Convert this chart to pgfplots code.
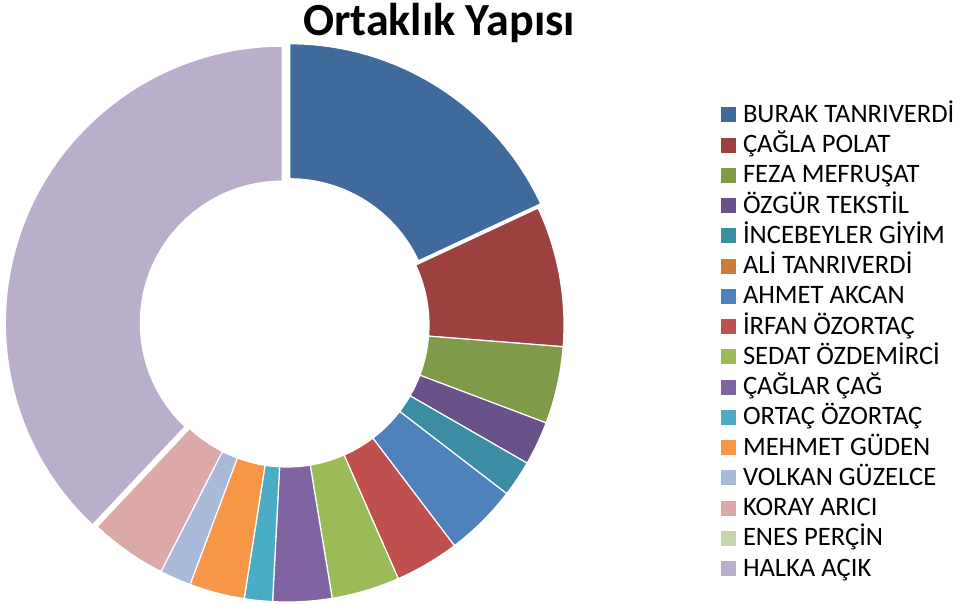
\documentclass[border=0pt]{standalone}
\usepackage{pgfplots}
\usepackage{pgfplotstable}
\pgfplotsset{compat=1.18}
\usepackage{fontspec}
\setmainfont{Carlito}

\definecolor{c0}{HTML}{416A9C}
\definecolor{c1}{HTML}{9C413F}
\definecolor{c2}{HTML}{7F9A48}
\definecolor{c3}{HTML}{69518A}
\definecolor{c4}{HTML}{3C8DA3}
\definecolor{c5}{HTML}{CC7B38}
\definecolor{c6}{HTML}{4F81BD}
\definecolor{c7}{HTML}{C0504D}
\definecolor{c8}{HTML}{9BBB59}
\definecolor{c9}{HTML}{8064A2}
\definecolor{c10}{HTML}{4BACC6}
\definecolor{c11}{HTML}{F79646}
\definecolor{c12}{HTML}{A9B9D8}
\definecolor{c13}{HTML}{DAA9A8}
\definecolor{c14}{HTML}{C6D6AC}
\definecolor{c15}{HTML}{B9AECB}

% share (%) and explode offset (px)
\pgfplotstableread{
v     e
18.06 5
8.19  0
4.50  0
2.56  0
2.11  0
0     0
4.25  0
3.75  0
3.97  0
3.44  0
1.64  0
3.22  0
1.83  0
4.50  0
0     0
37.97 5
}\data

\begin{document}
\begin{tikzpicture}
\begin{axis}[
  scale only axis, width=480.5pt, height=302pt,
  xmin=0, xmax=961, ymin=-604, ymax=0,
  hide axis, clip=false,
  legend image code/.code={\fill[#1, draw=none] (0pt,0pt) rectangle (7.5pt,7.5pt);},
  legend style={at={(axis cs:721,-106)}, anchor=north west, draw=none, fill=none,
    inner sep=0pt, font=\fontsize{13.3pt}{15pt}\selectfont,
    nodes={inner sep=0pt, text height=8pt, text depth=0pt, anchor=base west},
    row sep=7.12pt, column sep=3.3pt},
  legend cell align=left,
]
\gdef\cum{0}
\pgfplotsinvokeforeach{0,...,15}{
  \pgfplotstablegetelem{#1}{v}\of\data \let\v\pgfplotsretval
  \pgfplotstablegetelem{#1}{e}\of\data \let\ex\pgfplotsretval
  \pgfmathsetmacro\a{90-3.6*\cum}
  \pgfmathsetmacro\b{90-3.6*(\cum+\v)}
  \pgfmathsetmacro\m{(\a+\b)/2}
  \pgfmathsetmacro\cx{287+\ex*cos(\m)}
  \pgfmathsetmacro\cy{-325+\ex*sin(\m)}
  \pgfmathsetmacro\xa{\cx+277*cos(\a)}
  \pgfmathsetmacro\ya{\cy+277*sin(\a)}
  \pgfmathsetmacro\xb{\cx+142*cos(\b)}
  \pgfmathsetmacro\yb{\cy+142*sin(\b)}
  \ifdim\v pt>0pt
    \edef\temp{\noexpand\filldraw[fill=c#1, draw=white, line width=0.6pt, line join=round]
      (axis cs:\xa,\ya) arc[start angle=\a, end angle=\b, radius=277]
      -- (axis cs:\xb,\yb) arc[start angle=\b, end angle=\a, radius=142] -- cycle;}
    \temp
  \fi
  \pgfmathsetmacro\newcum{\cum+\v}
  \xdef\cum{\newcum}
}
\pgfplotsinvokeforeach{0,...,15}{\addlegendimage{fill=c#1}}
\legend{BURAK TANRIVERDİ, ÇAĞLA POLAT, FEZA MEFRUŞAT, ÖZGÜR TEKSTİL, İNCEBEYLER GİYİM,
  ALİ TANRIVERDİ, AHMET AKCAN, İRFAN ÖZORTAÇ, SEDAT ÖZDEMİRCİ, ÇAĞLAR ÇAĞ,
  ORTAÇ ÖZORTAÇ, MEHMET GÜDEN, VOLKAN GÜZELCE, KORAY ARICI, ENES PERÇİN, HALKA AÇIK}
\node[anchor=base, font=\fontsize{23pt}{27pt}\selectfont\bfseries, inner sep=0pt]
  at (axis cs:439,-36) {Ortaklık Yapısı};
\end{axis}
\pgfresetboundingbox
\useasboundingbox (current axis.south west) rectangle (current axis.north east);
\end{tikzpicture}
\end{document}
